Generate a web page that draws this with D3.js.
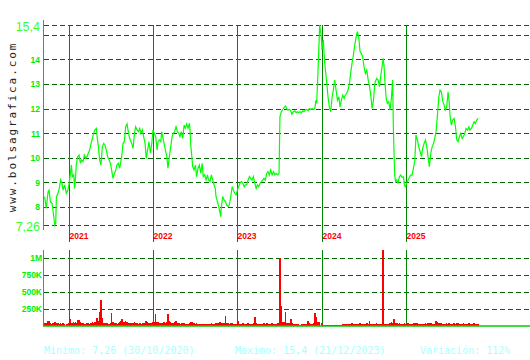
<!DOCTYPE html>
<html>
<head>
<meta charset="utf-8">
<script src="https://cdn.jsdelivr.net/npm/d3@7"></script>
<style>
  body { margin: 0; background: #fff; }
  svg { display: block; }
</style>
</head>
<body>
<div id="chart"></div>
<script>
"use strict"

// axis span and price extremes
var xStart = "2020-09-15", xEnd = "2025-11-06";
var priceMin = 7.26, priceMax = 15.4;
var priceTicks = [8, 9, 10, 11, 12, 13, 14, 15];
var priceTickLabels = ["8", "9", "10", "11", "12", "13", "14", ""];
var priceEndLabels = ["7,26", "15,4"];
var volumeTicks = [250000, 500000, 750000, 1000000];
var volumeTickLabels = ["250K", "500K", "750K", "1M"];
var footerTexts = ["Minimo: 7,26 (30/10/2020)", "Maximo: 15,4 (21/12/2023)", "Variación: 112%"];

var priceDates = [
  "2020-09-16","2020-09-23","2020-10-01","2020-10-05","2020-10-11","2020-10-18","2020-10-22","2020-10-30","2020-11-03","2020-11-06","2020-11-13","2020-11-20","2020-11-24","2020-11-30","2020-12-05","2020-12-12","2020-12-19","2020-12-26","2020-12-30",
  "2021-01-05","2021-01-10","2021-01-14","2021-01-20","2021-01-24","2021-01-28","2021-01-31","2021-02-06","2021-02-12","2021-02-18","2021-02-23","2021-03-01","2021-03-07","2021-03-13","2021-03-18","2021-03-24","2021-03-30","2021-04-05","2021-04-11","2021-04-16","2021-04-22","2021-04-28","2021-05-02","2021-05-07","2021-05-12","2021-05-18","2021-05-24","2021-05-30","2021-06-04","2021-06-10","2021-06-16","2021-06-22","2021-06-28","2021-07-03","2021-07-09","2021-07-15","2021-07-21","2021-07-26","2021-08-01","2021-08-07","2021-08-13","2021-08-16","2021-08-21","2021-08-27","2021-09-02","2021-09-08","2021-09-12","2021-09-16","2021-09-22","2021-09-28","2021-10-04","2021-10-10","2021-10-15","2021-10-21","2021-10-27","2021-11-02","2021-11-07","2021-11-13","2021-11-19","2021-11-25","2021-11-30","2021-12-06","2021-12-12","2021-12-18","2021-12-24","2021-12-29",
  "2022-01-04","2022-01-10","2022-01-16","2022-01-20","2022-01-26","2022-02-01","2022-02-05","2022-02-09","2022-02-15","2022-02-21","2022-02-27","2022-03-04","2022-03-10","2022-03-16","2022-03-22","2022-03-27","2022-04-02","2022-04-08","2022-04-14","2022-04-20","2022-04-25","2022-05-01","2022-05-07","2022-05-13","2022-05-18","2022-05-24","2022-05-30","2022-06-05","2022-06-08","2022-06-10","2022-06-16","2022-06-19","2022-06-25","2022-07-01","2022-07-06","2022-07-12","2022-07-18","2022-07-24","2022-07-30","2022-08-04","2022-08-10","2022-08-16","2022-08-22","2022-08-27","2022-09-02","2022-09-08","2022-09-14","2022-09-20","2022-09-25","2022-09-28","2022-10-04","2022-10-10","2022-10-16","2022-10-18","2022-10-21","2022-10-27","2022-11-02","2022-11-08","2022-11-13","2022-11-19","2022-11-25","2022-12-01","2022-12-07","2022-12-12","2022-12-18","2022-12-24","2022-12-30",
  "2023-01-04","2023-01-10","2023-01-16","2023-01-22","2023-01-28","2023-02-02","2023-02-08","2023-02-14","2023-02-20","2023-02-25","2023-03-03","2023-03-09","2023-03-15","2023-03-21","2023-03-26","2023-04-01","2023-04-07","2023-04-13","2023-04-18","2023-04-24","2023-04-30","2023-05-06","2023-05-11","2023-05-17","2023-05-23","2023-05-29","2023-06-04","2023-06-10","2023-06-16","2023-06-22","2023-06-28","2023-07-02","2023-07-08","2023-07-14","2023-07-20","2023-07-26","2023-07-31","2023-08-06","2023-08-12","2023-08-18","2023-08-23","2023-08-29","2023-09-04","2023-09-10","2023-09-15","2023-09-21","2023-09-27","2023-10-03","2023-10-09","2023-10-14","2023-10-20","2023-10-26","2023-11-01","2023-11-06","2023-11-12","2023-11-18","2023-11-24","2023-11-30","2023-12-05","2023-12-08","2023-12-14","2023-12-17","2023-12-19","2023-12-20","2023-12-21","2023-12-28","2023-12-31",
  "2024-01-03","2024-01-06","2024-01-09","2024-01-12","2024-01-15","2024-01-21","2024-01-26","2024-02-01","2024-02-07","2024-02-13","2024-02-18","2024-02-24","2024-03-01","2024-03-07","2024-03-13","2024-03-18","2024-03-24","2024-03-30","2024-04-05","2024-04-10","2024-04-16","2024-04-22","2024-04-28","2024-05-03","2024-05-09","2024-05-15","2024-05-21","2024-05-27","2024-06-01","2024-06-07","2024-06-13","2024-06-19","2024-06-24","2024-06-30","2024-07-06","2024-07-12","2024-07-18","2024-07-23","2024-07-29","2024-08-04","2024-08-10","2024-08-15","2024-08-18","2024-08-24","2024-08-30","2024-09-05","2024-09-10","2024-09-16","2024-09-21","2024-09-25","2024-09-28","2024-10-04","2024-10-09","2024-10-15","2024-10-21","2024-10-27","2024-11-01","2024-11-04","2024-11-07","2024-11-10","2024-11-14","2024-11-19","2024-11-24","2024-11-30","2024-12-06","2024-12-12","2024-12-18","2024-12-22","2024-12-26",
  "2025-01-01","2025-01-07","2025-01-13","2025-01-18","2025-01-24","2025-01-30","2025-02-05","2025-02-10","2025-02-16","2025-02-22","2025-02-28","2025-03-06","2025-03-11","2025-03-17","2025-03-23","2025-03-29","2025-04-03","2025-04-09","2025-04-15","2025-04-21","2025-04-27","2025-05-02","2025-05-08","2025-05-14","2025-05-20","2025-05-25","2025-05-31","2025-06-06","2025-06-12","2025-06-17","2025-06-23","2025-06-29","2025-07-03","2025-07-08","2025-07-13","2025-07-19","2025-07-25","2025-07-31","2025-08-06","2025-08-11","2025-08-17","2025-08-23","2025-08-29","2025-09-03","2025-09-09","2025-09-15","2025-09-21","2025-09-27","2025-10-02","2025-10-08","2025-10-14","2025-10-20","2025-10-25","2025-10-31","2025-11-06"
];

var priceValues = [
  8.41,7.94,8.62,8.68,8.21,8.14,7.87,7.26,7.33,8.41,8.55,8.82,9.09,8.96,8.68,8.89,8.55,8.68,8.89,
  9.30,9.70,9.23,9.30,8.75,9.23,9.70,10.04,10.11,9.77,9.91,9.84,10.11,9.97,10.04,10.18,10.31,10.58,10.79,10.99,11.13,11.19,10.79,10.45,9.91,9.70,10.45,10.58,10.52,10.31,10.04,9.91,9.77,9.50,9.16,9.36,9.50,9.70,9.77,9.57,9.91,10.04,10.58,10.65,11.26,11.37,11.13,10.92,10.72,10.58,10.38,10.99,11.26,11.13,11.06,11.19,10.99,11.13,10.85,10.58,9.97,10.31,10.65,10.18,10.58,11.13,
  10.99,10.85,10.31,10.65,10.72,10.65,11.06,10.86,10.59,10.31,10.04,9.57,10.04,10.45,10.86,10.99,11.06,11.26,11.06,10.99,10.86,11.06,10.79,11.33,11.20,11.37,11.20,11.40,11.06,10.59,9.98,9.64,9.50,9.70,9.23,9.57,9.70,9.37,9.77,9.23,9.30,9.09,9.30,9.09,9.03,9.30,9.09,8.89,8.75,8.42,8.21,8.01,7.74,7.60,7.94,8.42,8.28,8.21,8.08,8.01,8.08,8.42,8.82,8.69,8.55,8.48,8.69,
  8.82,8.96,9.03,8.96,8.82,8.89,8.89,9.09,9.23,9.16,9.09,9.23,8.96,8.75,8.89,8.82,8.96,9.03,9.09,9.16,9.09,9.37,9.43,9.30,9.50,9.30,9.43,9.30,9.36,9.30,9.36,11.67,11.87,11.96,12.04,12.10,12.00,11.94,11.96,11.91,11.77,11.87,11.91,11.83,11.87,11.83,11.87,11.83,11.91,11.87,11.94,11.96,11.91,12.00,11.96,12.00,11.96,12.00,12.34,12.21,13.57,14.38,14.85,15.19,15.40,14.92,14.38,
  14.65,14.79,14.24,13.84,13.57,13.02,12.48,12.07,11.87,12.48,12.75,13.16,12.75,12.34,12.48,12.07,12.34,12.55,12.41,12.55,12.62,12.75,13.02,13.43,13.84,14.18,14.58,14.92,15.13,14.92,14.31,14.24,14.11,13.70,13.43,13.57,13.16,12.95,12.55,12.00,12.34,12.95,13.09,13.23,13.16,12.89,13.29,13.70,14.04,13.70,13.16,12.41,12.21,12.28,11.94,12.48,13.16,11.26,10.17,9.29,9.02,9.09,8.98,9.22,9.29,9.20,9.22,8.88,8.82,
  8.98,9.09,9.20,9.29,9.29,9.56,9.90,10.92,10.72,10.44,10.24,10.04,10.38,10.58,10.72,10.44,10.04,9.63,10.17,10.44,10.58,10.78,11.06,11.73,12.48,12.75,12.68,12.28,12.14,11.94,12.07,12.68,12.34,11.67,11.33,11.53,11.60,11.26,10.72,10.65,10.85,10.99,10.78,10.85,10.99,11.19,11.12,11.26,11.12,11.19,11.33,11.46,11.39,11.53,11.60
];

// volume in thousands of shares, same dates
var volumeK = [
  50,45,75,70,40,35,50,55,60,45,40,35,45,30,40,35,30,25,40,
  100,45,40,55,50,60,45,85,85,60,45,40,35,30,40,45,35,40,55,45,60,115,115,70,200,380,120,50,40,45,40,35,50,190,60,45,40,35,45,60,70,100,60,55,70,60,45,40,50,45,40,55,45,40,35,40,35,40,45,50,70,55,45,50,40,55,
  60,170,60,55,45,50,40,45,55,50,60,170,70,55,45,50,60,80,50,40,35,40,45,40,35,30,35,40,35,55,60,45,40,35,40,35,30,35,30,35,30,35,25,30,35,40,35,30,45,40,50,45,55,50,45,40,40,150,45,40,35,40,45,35,30,35,40,
  70,35,30,40,35,30,35,40,35,30,35,40,130,45,35,30,35,30,35,40,35,40,35,30,35,40,35,30,35,40,45,1000,300,60,55,200,50,45,40,110,45,35,30,25,30,25,20,25,30,25,30,35,80,40,35,30,40,190,140,50,60,55,50,45,50,40,30,
  25,20,20,15,20,15,20,15,20,15,20,15,20,15,20,15,20,25,30,35,30,35,30,35,40,35,30,35,30,35,40,30,35,30,35,40,35,80,35,30,35,30,35,40,35,30,35,35,1120,35,30,35,30,35,40,60,40,60,110,70,45,40,35,40,35,30,35,40,30,
  35,40,35,30,35,40,45,50,40,35,30,35,30,35,40,35,40,45,40,35,30,35,70,60,50,50,40,35,30,35,40,35,40,35,30,35,40,35,45,40,35,30,35,40,35,30,35,40,35,30,35,40,35,30,35
];

var width = 530, height = 360;
var parse = d3.utcParse("%Y-%m-%d");

var data = priceDates.map((d, i) => ({date: parse(d), price: priceValues[i], vol: volumeK[i] * 1000}));

var x = d3.scaleUtc()
  .domain([parse(xStart), parse(xEnd)])
  .range([44.4, 478.1]);

var y = d3.scaleLinear()
  .domain([priceMin, priceMax])
  .range([225, 25]);

var yVol = d3.scaleLinear()
  .domain([0, 1000000])
  .range([326, 258.3]);

let svg = d3.select("#chart")
  .append("svg")
    .attr("width", width)
    .attr("height", height);

const crisp = v => Math.round(v) + 0.5;

// dashed price grid
svg.append("g")
  .selectAll("line")
  .data([priceMin].concat(priceTicks, [priceMax]))
  .join("line")
    .attr("x1", 44).attr("x2", width)
    .attr("y1", d => crisp(y(d))).attr("y2", d => crisp(y(d)))
    .attr("stroke", "#006400")
    .attr("stroke-dasharray", "5,3")
    .attr("shape-rendering", "crispEdges");

// dashed volume grid
svg.append("g")
  .selectAll("line")
  .data(volumeTicks)
  .join("line")
    .attr("x1", 44).attr("x2", width)
    .attr("y1", d => crisp(yVol(d))).attr("y2", d => crisp(yVol(d)))
    .attr("stroke", "#006400")
    .attr("stroke-dasharray", "5,3")
    .attr("shape-rendering", "crispEdges");

// year separators
var years = d3.utcYear.range(x.domain()[0], x.domain()[1]);

svg.append("g")
  .selectAll("line")
  .data(years)
  .join("line")
    .attr("x1", d => Math.floor(x(d)) + 0.5).attr("x2", d => Math.floor(x(d)) + 0.5)
    .attr("y1", 25).attr("y2", 242)
    .attr("stroke", "#008800")
    .attr("shape-rendering", "crispEdges");

svg.append("g")
  .selectAll("line")
  .data(years)
  .join("line")
    .attr("x1", d => Math.floor(x(d)) + 0.5).attr("x2", d => Math.floor(x(d)) + 0.5)
    .attr("y1", 250).attr("y2", 326)
    .attr("stroke", "#008800")
    .attr("shape-rendering", "crispEdges");

svg.append("g")
  .selectAll("text")
  .data(years)
  .join("text")
    .attr("x", d => Math.floor(x(d)) + 0.5)
    .attr("y", 239)
    .attr("fill", "#ff0000")
    .style("font-family", "Liberation Sans")
    .style("font-weight", "bold")
    .style("font-size", "8.5px")
    .text(d => d.getUTCFullYear());

// volume bars
svg.append("g")
  .selectAll("rect")
  .data(data)
  .join("rect")
    .attr("x", d => x(d.date) - 0.75)
    .attr("width", 1.5)
    .attr("y", d => yVol(d.vol))
    .attr("height", d => yVol(0) - yVol(d.vol))
    .attr("fill", "#ff0000")
    .attr("shape-rendering", "crispEdges");

// left axis lines and volume baseline
svg.append("line")
  .attr("x1", 43.5).attr("x2", 43.5).attr("y1", 20).attr("y2", 230)
  .attr("stroke", "#00cc00");
svg.append("line")
  .attr("x1", 43.5).attr("x2", 43.5).attr("y1", 250).attr("y2", 326)
  .attr("stroke", "#00cc00");
svg.append("line")
  .attr("x1", 43).attr("x2", width).attr("y1", 326).attr("y2", 326)
  .attr("stroke", "#00cc00")
  .attr("stroke-width", 1.5);

// price line
const line = d3.line()
  .x(d => x(d.date))
  .y(d => y(d.price));

svg.append("path")
  .datum(data)
  .attr("d", line)
  .attr("fill", "none")
  .attr("stroke", "#00ff00")
  .attr("stroke-width", 1.2);

// price labels
svg.append("g")
  .selectAll("text")
  .data(priceTicks)
  .join("text")
    .attr("x", 40)
    .attr("y", d => y(d) + 3.5)
    .attr("text-anchor", "end")
    .attr("fill", "#00ee00")
    .style("font-family", "Liberation Sans")
    .style("font-weight", "bold")
    .style("font-size", "8.5px")
    .text((d, i) => priceTickLabels[i]);

svg.append("g")
  .selectAll("text")
  .data([priceMin, priceMax])
  .join("text")
    .attr("x", 40)
    .attr("y", d => y(d) + 5.5)
    .attr("text-anchor", "end")
    .attr("fill", "#33ff33")
    .style("font-family", "Liberation Sans")
    .style("font-size", "12.5px")
    .text((d, i) => priceEndLabels[i]);

svg.append("g")
  .selectAll("text")
  .data(volumeTicks)
  .join("text")
    .attr("x", 42)
    .attr("y", d => yVol(d) + 3)
    .attr("text-anchor", "end")
    .attr("fill", "#00ee00")
    .style("font-family", "Liberation Sans")
    .style("font-weight", "bold")
    .style("font-size", "8.5px")
    .text((d, i) => volumeTickLabels[i]);

// watermark
svg.append("text")
  .attr("transform", "translate(16,127) rotate(-90)")
  .attr("text-anchor", "middle")
  .attr("fill", "#222")
  .style("font-family", "DejaVu Sans Mono")
  .style("font-size", "11px")
  .style("letter-spacing", "1.9px")
  .text("www.bolsagrafica.com");

// footer
svg.append("g")
  .selectAll("text")
  .data(footerTexts)
  .join("text")
    .attr("x", (d, i) => [44, 235, 420][i])
    .attr("y", 354)
    .attr("fill", "#a8ffff")
    .style("font-family", "DejaVu Sans Mono")
    .style("font-size", "10px")
    .text(d => d);

</script>
</body>
</html>
